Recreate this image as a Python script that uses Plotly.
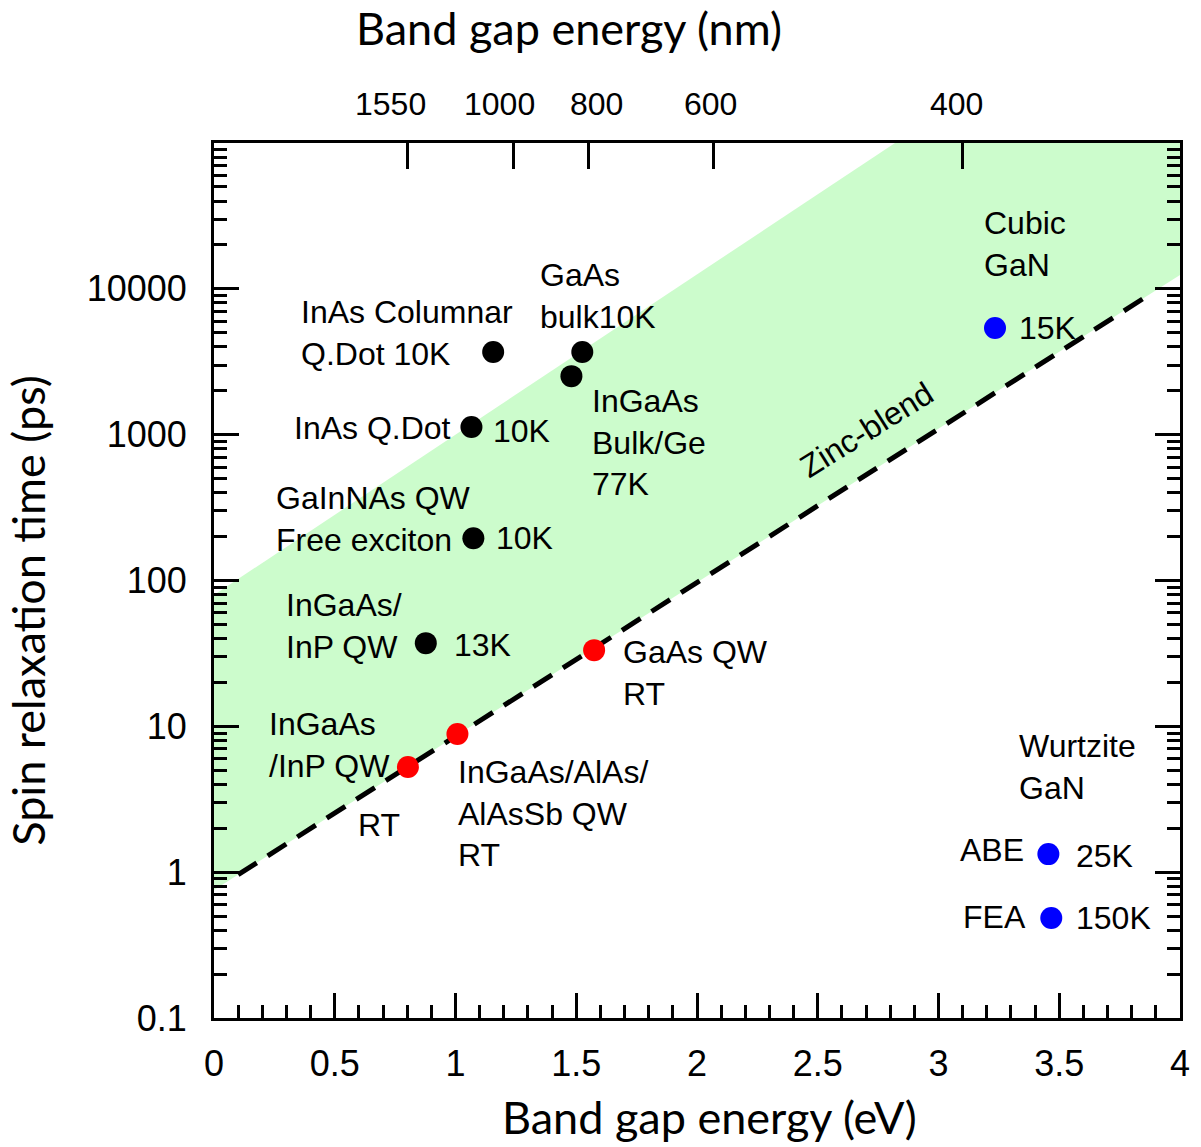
import math
import plotly.graph_objects as go

# ---------------- data ----------------
black_E = [1.156, 1.525, 1.480, 1.066, 1.074, 0.877]
black_tau = [3690, 3690, 2520, 1130, 195, 37.2]

red_E = [0.803, 1.008, 1.574]
red_tau = [5.26, 8.85, 33.3]

blue_E = [3.234, 3.455, 3.467]
blue_tau = [5380, 1.33, 0.485]

# band boundaries (E in eV, tau in ps)
lower_E = [0.0, 4.0]
lower_tau = [0.755, 12450]
upper_E = [0.0, 4.0]
upper_tau = [79.6, 79.6 * 10 ** (1.099 * 4.0)]
dash_E = [0.1, 3.857]
dash_tau = [10 ** (-0.122 + 1.054 * 0.1), 10 ** (-0.122 + 1.054 * 3.857)]

top_nm = [1550, 1000, 800, 600, 400]
top_shift = [-17, -14, 8, -3, -6]

y_tickvals = [0.1, 1, 10, 100, 1000, 10000]
y_ticktext = ["0.1", "1", "10", "100", "1000", "10000"]
x_tickvals = [0, 0.5, 1, 1.5, 2, 2.5, 3, 3.5, 4]
x_ticktext = ["0", "0.5", "1", "1.5", "2", "2.5", "3", "3.5", "4"]

# labels: (text, E, log10(tau), xanchor)
labels = [
    ("InAs Columnar<br>Q.Dot 10K", 0.352, 3.697, "left"),
    ("GaAs<br>bulk10K", 1.340, 3.951, "left"),
    ("InGaAs<br>Bulk/Ge<br>77K", 1.557, 2.943, "left"),
    ("InAs Q.Dot", 0.988, 3.046, "right"),
    ("10K", 1.148, 3.025, "left"),
    ("GaInNAs QW<br>Free exciton", 0.250, 2.422, "left"),
    ("10K", 1.160, 2.291, "left"),
    ("InGaAs/<br>InP QW", 0.291, 1.688, "left"),
    ("13K", 0.984, 1.558, "left"),
    ("GaAs QW<br>RT", 1.684, 1.366, "left"),
    ("InGaAs<br>/InP QW", 0.221, 0.872, "left"),
    ("RT", 0.586, 0.323, "left"),
    ("InGaAs/AlAs/<br>AlAsSb QW<br>RT", 1.000, 0.399, "left"),
    ("Cubic<br>GaN", 3.180, 4.308, "left"),
    ("15K", 3.324, 3.731, "left"),
    ("Wurtzite<br>GaN", 3.324, 0.721, "left"),
    ("ABE", 3.361, 0.152, "right"),
    ("25K", 3.561, 0.111, "left"),
    ("FEA", 3.369, -0.307, "right"),
    ("150K", 3.561, -0.314, "left"),
]

LABEL_FONT = dict(family="Liberation Sans, Arial, sans-serif", size=32, color="black")
TICK_FONT = dict(family="Liberation Sans, Arial, sans-serif", size=36, color="black")
TITLE_FONT = dict(family="Lato, Open Sans, sans-serif", size=45, color="black")

fig = go.Figure()

# green band: lower edge then upper edge reversed
fig.add_trace(go.Scatter(
    x=lower_E + upper_E[::-1],
    y=lower_tau + upper_tau[::-1],
    fill="toself", fillcolor="#CCFCCC", line=dict(width=0),
    mode="lines", hoverinfo="skip", showlegend=False,
))

fig.add_trace(go.Scatter(
    x=dash_E, y=dash_tau, mode="lines",
    line=dict(color="black", width=5, dash="22px,13px"),
    showlegend=False,
))

for xs, ys, col in [(black_E, black_tau, "black"), (red_E, red_tau, "#FF0000"), (blue_E, blue_tau, "#0000FF")]:
    fig.add_trace(go.Scatter(
        x=xs, y=ys, mode="markers",
        marker=dict(color=col, size=22, line=dict(width=0)),
        showlegend=False, cliponaxis=False,
    ))

# top axis trace (invisible) to activate xaxis2
fig.add_trace(go.Scatter(x=[0, 4], y=[1, 1], xaxis="x2", mode="markers",
                         marker=dict(opacity=0), showlegend=False, hoverinfo="skip"))

annotations = []
for text, E, ly, xa in labels:
    annotations.append(dict(
        text=text, x=E, y=ly, xref="x", yref="y",
        xanchor=xa, yanchor="middle", align="left", showarrow=False,
        font=LABEL_FONT,
    ))

annotations.append(dict(
    text="Zinc-blend", x=2.701, y=3.032, xref="x", yref="y",
    textangle=-32, showarrow=False, font=LABEL_FONT,
))

for nm, sh in zip(top_nm, top_shift):
    annotations.append(dict(
        text=str(nm), x=1240 / nm, y=1.0446, xref="x", yref="paper",
        xshift=sh, showarrow=False, yanchor="middle",
        font=dict(family="Liberation Sans Narrow, Arial Narrow, Liberation Sans, sans-serif", size=32, color="black"),
    ))

annotations += [
    dict(text="Band gap energy (eV)", x=0.513, y=-0.113, xref="paper", yref="paper",
         showarrow=False, yanchor="middle", font=TITLE_FONT),
    dict(text="Band gap energy (nm)", x=0.368, y=1.131, xref="paper", yref="paper",
         showarrow=False, yanchor="middle", font=TITLE_FONT),
    dict(text="Spin relaxation time (ps)", x=-0.192, y=0.466, xref="paper", yref="paper",
         showarrow=False, textangle=-90, xanchor="center", yanchor="middle", font=TITLE_FONT),
]

fig.update_layout(
    width=1201, height=1147,
    margin=dict(l=214, r=11, t=143, b=129),
    plot_bgcolor="white", paper_bgcolor="white",
    annotations=annotations,
    xaxis=dict(
        range=[0, 4], showgrid=False, zeroline=False,
        showline=True, linecolor="black", linewidth=3, mirror=True,
        tickvals=x_tickvals, ticktext=x_ticktext,
        ticks="inside", ticklen=25, tickwidth=2.5, tickcolor="black",
        minor=dict(dtick=0.1, ticks="inside", ticklen=13, tickwidth=2.5, tickcolor="black", showgrid=False),
        tickfont=TICK_FONT, ticklabelstandoff=12,
    ),
    xaxis2=dict(
        range=[0, 4], overlaying="x", side="top", showgrid=False, zeroline=False,
        showline=False, tickvals=[1240 / nm for nm in top_nm],
        ticks="inside", ticklen=26, tickwidth=2.5, tickcolor="black",
        showticklabels=False,
    ),
    yaxis=dict(
        type="log", range=[-1, 5], showgrid=False, zeroline=False,
        showline=True, linecolor="black", linewidth=3, mirror="ticks",
        tickvals=y_tickvals, ticktext=y_ticktext,
        ticks="inside", ticklen=25, tickwidth=2.5, tickcolor="black",
        minor=dict(dtick="D1", ticks="inside", ticklen=13, tickwidth=2.5, tickcolor="black", showgrid=False),
        tickfont=TICK_FONT, ticklabelstandoff=17,
    ),
)

fig.write_html(
    "out.html",
    config={"displayModeBar": False},
    post_script="document.body.style.margin='0px';document.body.style.overflow='hidden';",
)
